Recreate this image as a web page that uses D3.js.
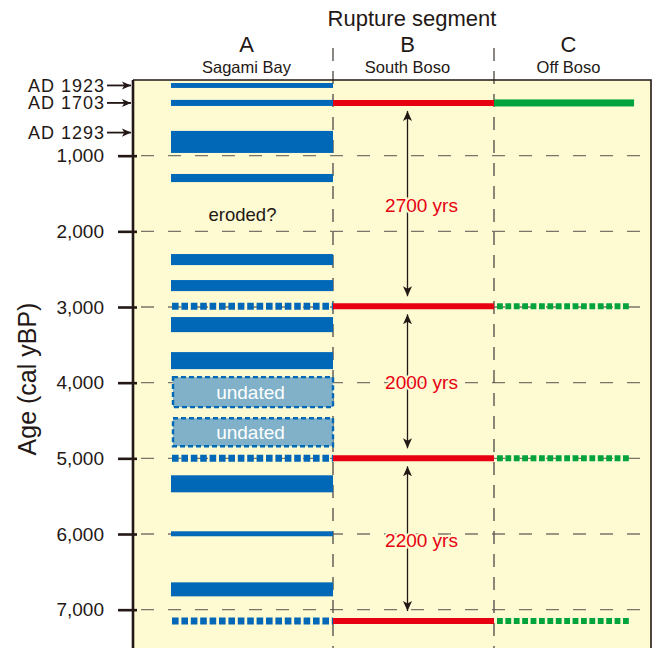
<!DOCTYPE html>
<html>
<head>
<meta charset="utf-8">
<script src="https://cdn.jsdelivr.net/npm/d3@7"></script>
<style>
  body { margin: 0; background: #fff; }
  svg text { font-family: "Liberation Sans", Arial, Helvetica, sans-serif; }
</style>
</head>
<body>
<div id="chart"></div>
<script>
// data (ages in cal yBP)
var columns = ["A", "B", "C"];
var regions = ["Sagami Bay", "South Boso", "Off Boso"];
var yTicks = [1000, 2000, 3000, 4000, 5000, 6000, 7000];

var sagamiBars = [[40, 105], [263, 343], [673, 964], [1242, 1349], [2300, 2446],
                  [2644, 2790], [3133, 3332], [3596, 3821], [5224, 5449],
                  [5964, 6030], [6639, 6824]];
var sagamiDotted = [2990, 5000, 7150];
var undatedBoxes = [[3927, 4323], [4470, 4840]];
var southBosoEvents = [303, 2990, 5000, 7150];
var offBosoSolid = [303];
var offBosoDotted = [2990, 5000, 7150];
var intervals = ["2700 yrs", "2000 yrs", "2200 yrs"];
var historicLabels = ["AD 1923", "AD 1703", "AD 1293"];
var historicAges = [72, 303, 695];

var W = 658, H = 648;
var plotLeft = 133, plotTop = 80, plotRight = 651;
var ink = "#231815", bg = "#fefad2";
var blue = "#0068b7", red = "#e60012", green = "#00a33c";

var svg = d3.select("#chart").append("svg")
    .attr("width", W).attr("height", H);

var y = d3.scaleLinear().domain([0, 7500]).range([plotTop, 647.5]);
var x = d3.scaleBand().domain(columns).range([172, 655]);
var bw = x.bandwidth();

// background
svg.append("rect")
    .attr("x", plotLeft).attr("y", plotTop)
    .attr("width", plotRight - plotLeft).attr("height", H - plotTop)
    .attr("fill", bg);

// horizontal grid
svg.append("g").selectAll("line")
    .data(yTicks).enter().append("line")
    .attr("x1", plotLeft + 8).attr("x2", plotRight - 3)
    .attr("y1", function(d) { return y(d); })
    .attr("y2", function(d) { return y(d); })
    .attr("stroke", "#7a756a").attr("stroke-width", 1.3)
    .attr("stroke-dasharray", "13,14");

// column dividers
svg.append("g").selectAll("line")
    .data(["B", "C"]).enter().append("line")
    .attr("x1", function(d) { return x(d); })
    .attr("x2", function(d) { return x(d); })
    .attr("y1", 48).attr("y2", H)
    .attr("stroke", "#5a5650").attr("stroke-width", 1.4)
    .attr("stroke-dasharray", "13,10");

// frame top + right
svg.append("path")
    .attr("d", "M" + plotLeft + "," + plotTop + "H" + plotRight + "V" + H)
    .attr("fill", "none").attr("stroke", ink).attr("stroke-width", 1.6);

// Sagami Bay bars
svg.append("g").selectAll("rect")
    .data(sagamiBars).enter().append("rect")
    .attr("x", x("A") - 1)
    .attr("width", bw + 1)
    .attr("y", function(d) { return y(d[0]); })
    .attr("height", function(d) { return y(d[1]) - y(d[0]); })
    .attr("fill", blue);

svg.append("g").selectAll("line")
    .data(sagamiDotted).enter().append("line")
    .attr("x1", x("A")).attr("x2", x("A") + bw)
    .attr("y1", function(d) { return y(d); })
    .attr("y2", function(d) { return y(d); })
    .attr("stroke", blue).attr("stroke-width", 7)
    .attr("stroke-dasharray", "6.6,2.8");

// undated boxes
var ub = svg.append("g").selectAll("g")
    .data(undatedBoxes).enter().append("g");
ub.append("rect")
    .attr("x", x("A") + 1).attr("width", bw - 1)
    .attr("y", function(d) { return y(d[0]); })
    .attr("height", function(d) { return y(d[1]) - y(d[0]); })
    .attr("fill", "#80b1c8")
    .attr("stroke", blue).attr("stroke-width", 2.4)
    .attr("stroke-dasharray", "5,3");
ub.append("text")
    .attr("x", x("A") + bw / 2 - 2)
    .attr("y", function(d) { return (y(d[0]) + y(d[1])) / 2 + 7; })
    .attr("text-anchor", "middle")
    .attr("font-size", 19).attr("fill", "#fff")
    .text("undated");

svg.append("text")
    .attr("x", x("A") + bw / 2 - 10).attr("y", 221)
    .attr("text-anchor", "middle").attr("font-size", 18.5).attr("fill", ink)
    .text("eroded?");

// South Boso (red)
svg.append("g").selectAll("line")
    .data(southBosoEvents).enter().append("line")
    .attr("x1", x("B")).attr("x2", x("B") + bw)
    .attr("y1", function(d) { return y(d); })
    .attr("y2", function(d) { return y(d); })
    .attr("stroke", red).attr("stroke-width", 6);

// Off Boso (green)
svg.append("g").selectAll("rect")
    .data(offBosoSolid).enter().append("rect")
    .attr("x", x("C")).attr("width", bw * 0.87)
    .attr("y", function(d) { return y(d) - 3.5; })
    .attr("height", 7)
    .attr("fill", green);

svg.append("g").selectAll("line")
    .data(offBosoDotted).enter().append("line")
    .attr("x1", x("C") + 3).attr("x2", x("C") + bw * 0.85)
    .attr("y1", function(d) { return y(d); })
    .attr("y2", function(d) { return y(d); })
    .attr("stroke", green).attr("stroke-width", 6)
    .attr("stroke-dasharray", "5.8,2.6");

// recurrence arrows
var defs = svg.append("defs");
defs.append("marker")
    .attr("id", "head").attr("viewBox", "0 0 10 10")
    .attr("refX", 10).attr("refY", 5)
    .attr("markerWidth", 10).attr("markerHeight", 10)
    .attr("markerUnits", "userSpaceOnUse")
    .attr("orient", "auto-start-reverse")
    .append("path").attr("d", "M0,0.5L10,5L0,9.5L2.5,5Z").attr("fill", ink);

var ax = x("B") + bw / 2 - 6;
var spans = d3.pairs(southBosoEvents);
svg.append("g").selectAll("line")
    .data(spans).enter().append("line")
    .attr("x1", ax).attr("x2", ax)
    .attr("y1", function(d) { return y(d[0]) + 8; })
    .attr("y2", function(d) { return y(d[1]) - 10; })
    .attr("stroke", ink).attr("stroke-width", 1.3)
    .attr("marker-start", "url(#head)")
    .attr("marker-end", "url(#head)");

svg.append("g").selectAll("text")
    .data(spans).enter().append("text")
    .attr("x", ax + 14)
    .attr("y", function(d) { return (y(d[0]) + y(d[1])) / 2 + 7; })
    .attr("text-anchor", "middle").attr("font-size", 19)
    .attr("fill", red)
    .attr("stroke", bg).attr("stroke-width", 4)
    .attr("paint-order", "stroke")
    .text(function(d, i) { return intervals[i]; });

// y axis
var yAxis = svg.append("g")
    .attr("transform", "translate(" + plotLeft + ",0)")
    .call(d3.axisLeft(y).tickValues(yTicks)
        .tickFormat(d3.format(","))
        .tickSizeInner(15).tickSizeOuter(0).tickPadding(14));
yAxis.select(".domain")
    .attr("d", "M0," + plotTop + "V" + H)
    .attr("stroke", ink).attr("stroke-width", 2.6);
yAxis.selectAll(".tick line")
    .attr("x1", 4).attr("stroke", ink).attr("stroke-width", 2.6);
yAxis.selectAll(".tick text")
    .attr("font-size", 19).attr("fill", ink)
    .attr("font-family", "Liberation Sans, Arial, sans-serif");

// historic earthquake labels
defs.append("marker")
    .attr("id", "small").attr("viewBox", "0 0 10 10")
    .attr("refX", 10).attr("refY", 5)
    .attr("markerWidth", 9).attr("markerHeight", 9)
    .attr("markerUnits", "userSpaceOnUse")
    .attr("orient", "auto")
    .append("path").attr("d", "M0,0.5L10,5L0,9.5L2.5,5Z").attr("fill", ink);

var hist = svg.append("g").selectAll("g")
    .data(historicLabels).enter().append("g");
hist.append("line")
    .attr("x1", 107).attr("x2", plotLeft - 2)
    .attr("y1", function(d, i) { return y(historicAges[i]); })
    .attr("y2", function(d, i) { return y(historicAges[i]); })
    .attr("stroke", ink).attr("stroke-width", 1.8)
    .attr("marker-end", "url(#small)");
hist.append("text")
    .attr("x", 104)
    .attr("y", function(d, i) { return y(historicAges[i]) + 6.5; })
    .attr("text-anchor", "end").attr("font-size", 18).attr("fill", ink)
    .attr("textLength", 76)
    .text(function(d) { return d; });

// axis title
svg.append("text")
    .attr("transform", "translate(36,379) rotate(-90)")
    .attr("text-anchor", "middle").attr("font-size", 25).attr("fill", ink)
    .text("Age (cal yBP)");

// headers
svg.append("text")
    .attr("x", 412).attr("y", 26)
    .attr("text-anchor", "middle").attr("font-size", 22).attr("fill", ink)
    .text("Rupture segment");

var head = svg.append("g").selectAll("g")
    .data(columns).enter().append("g");
head.append("text")
    .attr("x", function(d) { return x(d) + bw / 2 - 6; })
    .attr("y", 52)
    .attr("text-anchor", "middle").attr("font-size", 22).attr("fill", ink)
    .text(function(d) { return d; });
head.append("text")
    .attr("x", function(d) { return x(d) + bw / 2 - 6; })
    .attr("y", 73)
    .attr("text-anchor", "middle").attr("font-size", 16.5).attr("fill", ink)
    .text(function(d, i) { return regions[i]; });
</script>
</body>
</html>
